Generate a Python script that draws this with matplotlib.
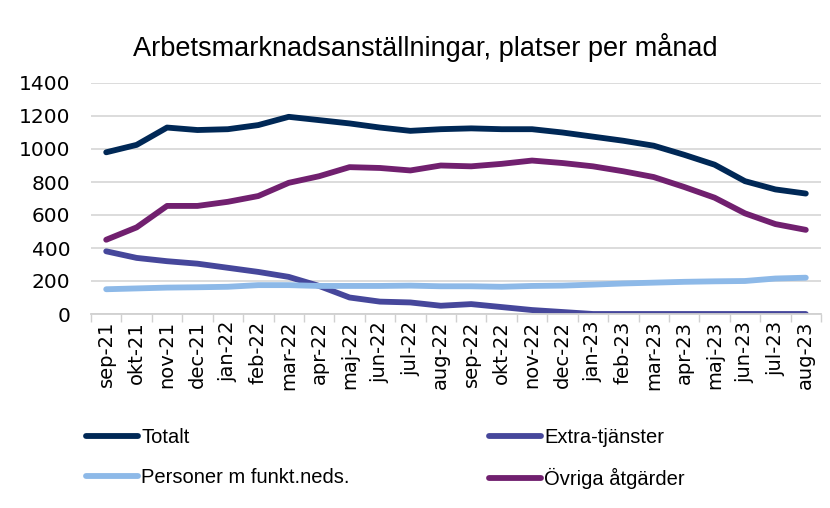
import numpy as np
import matplotlib.pyplot as plt
from matplotlib.lines import Line2D

months = ["sep-21", "okt-21", "nov-21", "dec-21", "jan-22", "feb-22", "mar-22", "apr-22",
          "maj-22", "jun-22", "jul-22", "aug-22", "sep-22", "okt-22", "nov-22", "dec-22",
          "jan-23", "feb-23", "mar-23", "apr-23", "maj-23", "jun-23", "jul-23", "aug-23"]

totalt = [980, 1025, 1130, 1115, 1120, 1145, 1195, 1175, 1155, 1130, 1110, 1120,
          1125, 1120, 1120, 1100, 1075, 1050, 1020, 965, 905, 805, 755, 730]
extra = [380, 340, 320, 305, 280, 255, 225, 170, 100, 75, 70, 50,
         60, 42, 24, 12, 0, 0, 0, 0, 0, 0, 0, 0]
personer = [150, 155, 160, 162, 165, 175, 175, 170, 170, 170, 172, 168,
            168, 165, 170, 172, 178, 185, 190, 195, 198, 200, 215, 220]
ovriga = [450, 525, 655, 655, 680, 715, 795, 835, 890, 885, 870, 900,
          895, 910, 930, 915, 895, 865, 830, 770, 705, 610, 545, 510]

names = ["Totalt", "Extra-tjänster", "Personer m funkt.neds.", "Övriga åtgärder"]
colors = ["#002856", "#46479b", "#8db9e8", "#71206f"]

txtfont = ["Liberation Sans", "DejaVu Sans"]

fig = plt.figure(figsize=(8.3, 5.08), dpi=100)
ax = fig.add_axes([91 / 830, 1 - 314 / 508, 730 / 830, 231 / 508])

x = np.arange(len(months))
for vals, c in zip([totalt, extra, personer, ovriga], colors):
    ax.plot(x, vals, color=c, lw=4.2, solid_capstyle="round", solid_joinstyle="round")

ax.set_ylim(0, 1400)
ax.set_yticks(range(0, 1401, 200))
ax.set_xlim(-0.5, len(months) - 0.5)
ax.set_xticks(x)
ax.set_xticklabels(months, rotation=90, fontsize=14, family="DejaVu Sans")
ax.set_xticks(np.arange(-0.5, len(months), 1), minor=True)
ax.tick_params(axis="x", which="major", length=0, pad=5)
ax.tick_params(axis="x", which="minor", length=6, color="#d0d0d0", width=1)
ax.tick_params(axis="y", length=0, labelsize=14.5, pad=15)
for lbl in ax.get_yticklabels():
    lbl.set_family("DejaVu Sans")
ax.grid(axis="y", color="#d9d9d9", lw=1.3)
ax.set_axisbelow(True)
for s in ["top", "right", "left"]:
    ax.spines[s].set_visible(False)
ax.spines["bottom"].set_color("#d0d0d0")
ax.spines["bottom"].set_linewidth(1.3)

fig.text(0.512, 1 - 48 / 508, "Arbetsmarknadsanställningar, platser per månad",
         ha="center", va="center", fontsize=19.5, family=txtfont)

# legend fills column-wise, so order so rows read Totalt/Extra, Personer/Övriga
order = [0, 2, 1, 3]
handles = [Line2D([0], [0], color=colors[i], lw=4.2, solid_capstyle="round") for i in order]
labels = [names[i] for i in order]
leg = fig.legend(handles, labels, loc="upper left", bbox_to_anchor=(76 / 830, 1 - 418 / 508),
                 ncol=2, frameon=False, prop={"family": txtfont, "size": 14.5},
                 handlelength=2.6, handletextpad=0.15, columnspacing=6.9, labelspacing=1.05,
                 borderpad=0)

fig.savefig("out.png", dpi=100)
